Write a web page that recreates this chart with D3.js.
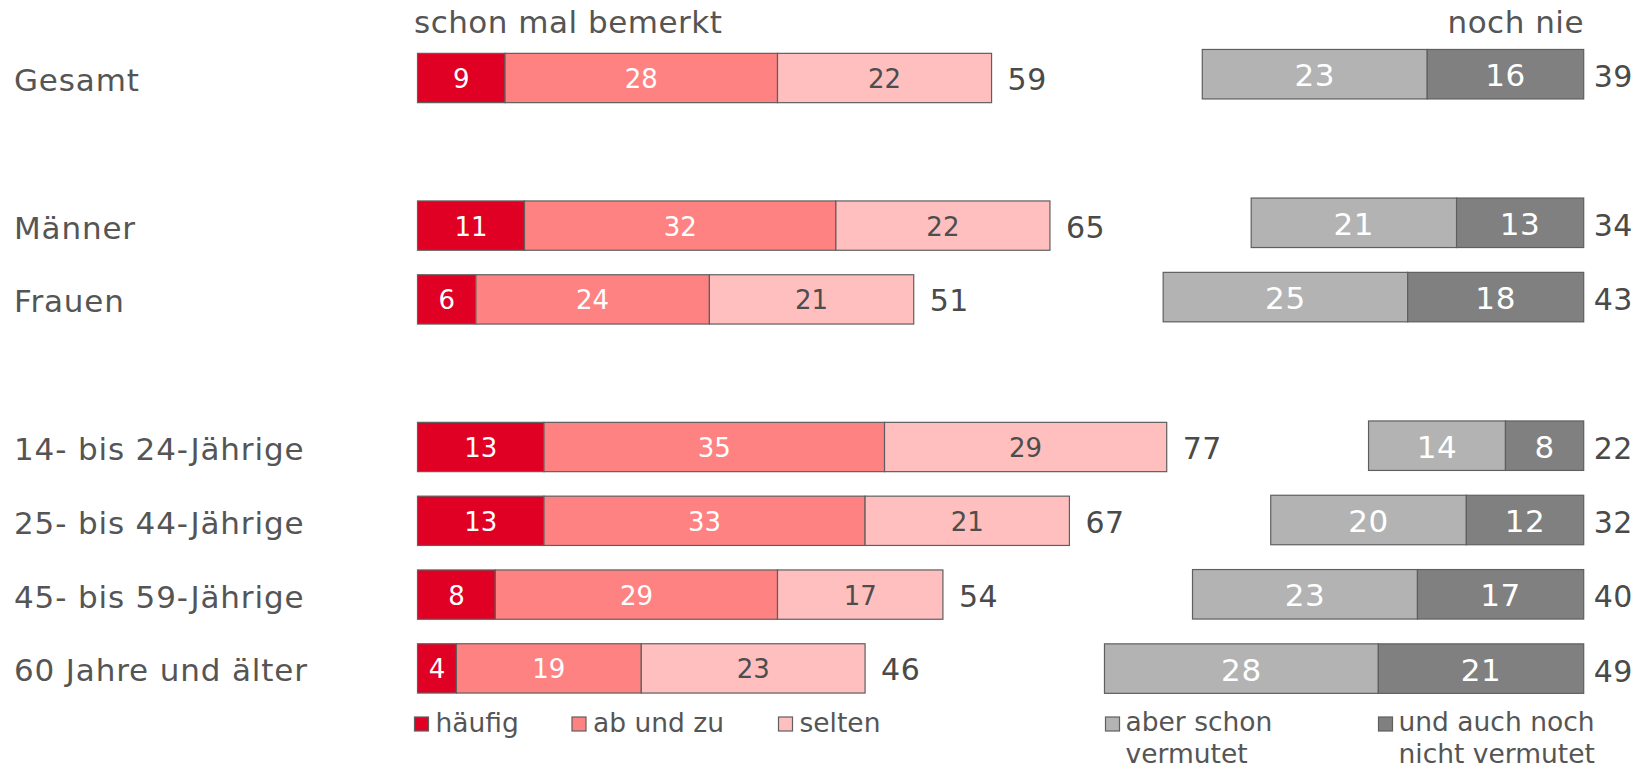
<!DOCTYPE html>
<html><head><meta charset="utf-8">
<script src="https://cdn.jsdelivr.net/npm/d3@7"></script>
<style>
html,body{margin:0;padding:0;background:#fff;}
svg text{font-family:"DejaVu Sans",Verdana,sans-serif;}
</style></head>
<body><svg id="c" width="1638" height="769"></svg>
<script>
// ---- data ----
const groups = [["Gesamt"], ["Männer", "Frauen"], ["14- bis 24-Jährige", "25- bis 44-Jährige", "45- bis 59-Jährige", "60 Jahre und älter"]];
const categories = ["Gesamt", "Männer", "Frauen", "14- bis 24-Jährige", "25- bis 44-Jährige", "45- bis 59-Jährige", "60 Jahre und älter"];
const haeufig = [9, 11, 6, 13, 13, 8, 4];
const abUndZu = [28, 32, 24, 35, 33, 29, 19];
const selten = [22, 22, 21, 29, 21, 17, 23];
const bemerktTotal = [59, 65, 51, 77, 67, 54, 46];
const aberSchonVermutet = [23, 21, 25, 14, 20, 23, 28];
const nichtVermutet = [16, 13, 18, 8, 12, 17, 21];
const nieTotal = [39, 34, 43, 22, 32, 40, 49];
const redSeries = ["häufig", "ab und zu", "selten"];
const graySeries = ["aber schon\nvermutet", "und auch noch\nnicht vermutet"];
const titleLeft = "schon mal bemerkt";
const titleRight = "noch nie";

// ---- layout ----
const svg = d3.select("#c");
const slots = [];
groups.forEach((g, i) => { if (i > 0) slots.push("_gap" + i); g.forEach(c => slots.push(c)); });

const yRed = d3.scaleBand().domain(slots).range([41.1, 41.1 + 9 * 73.8]).paddingInner(0.332).paddingOuter(0.166);
const yGray = d3.scaleBand().domain(slots).range([37.05, 37.05 + 9 * 74.3]).paddingInner(0.334).paddingOuter(0.167);
const xRed = d3.scaleLinear().domain([0, 100]).range([417.5, 417.5 + 973]);
const xGray = d3.scaleLinear().domain([0, 100]).range([1583.7, 1583.7 - 978]);

const redColors = ["#df0024", "#ff8282", "#ffbfbf"];
const redText = ["#ffffff", "#ffffff", "#4d4d4d"];
const grayColors = ["#b3b3b3", "#808080"];
const stroke = "#5f5f5f";
const labelColor = "#555555";

const redData = categories.map((c, i) => ({c, vals: [haeufig[i], abUndZu[i], selten[i]], total: bemerktTotal[i]}));
const grayData = categories.map((c, i) => ({c, vals: [aberSchonVermutet[i], nichtVermutet[i]], total: nieTotal[i]}));

// titles
svg.append("text").attr("x", 414).attr("y", 33).attr("font-size", 31).attr("letter-spacing", 0.5).attr("fill", labelColor).text(titleLeft);
svg.append("text").attr("x", 1584).attr("y", 33).attr("text-anchor", "end").attr("font-size", 31).attr("letter-spacing", 0.5).attr("fill", labelColor).text(titleRight);

// category labels
svg.append("g").selectAll("text").data(categories).join("text")
  .attr("x", 14).attr("y", d => yRed(d) + yRed.bandwidth() / 2 + 13)
  .attr("font-size", 31).attr("letter-spacing", 0.85).attr("fill", labelColor).text(d => d);

// red stacked bars
const gRed = svg.append("g");
redData.forEach(d => {
  let acc = 0;
  d.vals.forEach((v, k) => {
    const x0 = xRed(acc), x1 = xRed(acc + v);
    const y = yRed(d.c), h = yRed.bandwidth();
    gRed.append("rect").attr("x", x0).attr("y", y).attr("width", x1 - x0).attr("height", h)
      .attr("fill", redColors[k]).attr("stroke", stroke).attr("stroke-width", 1.2);
    gRed.append("text").attr("x", (x0 + x1) / 2).attr("y", y + h / 2 + 10)
      .attr("text-anchor", "middle").attr("font-size", 26).attr("fill", redText[k]).text(v);
    acc += v;
  });
  gRed.append("text").attr("x", xRed(d.total) + 16).attr("y", yRed(d.c) + yRed.bandwidth() / 2 + 12)
    .attr("font-size", 30).attr("letter-spacing", 0.5).attr("fill", "#4a4a4a").text(d.total);
});

// gray stacked bars (anchored right)
const gGray = svg.append("g");
grayData.forEach(d => {
  const y = yGray(d.c), h = yGray.bandwidth();
  const dark = d.vals[1], light = d.vals[0];
  const parts = [
    {v: light, from: dark, to: dark + light, k: 0},
    {v: dark, from: 0, to: dark, k: 1}
  ];
  parts.forEach(p => {
    const xa = xGray(p.to), xb = xGray(p.from);
    gGray.append("rect").attr("x", xa).attr("y", y).attr("width", xb - xa).attr("height", h)
      .attr("fill", grayColors[p.k]).attr("stroke", stroke).attr("stroke-width", 1.2);
    gGray.append("text").attr("x", (xa + xb) / 2).attr("y", y + h / 2 + 12)
      .attr("text-anchor", "middle").attr("font-size", 31).attr("letter-spacing", 0.6).attr("fill", "#ffffff").text(p.v);
  });
  gGray.append("text").attr("x", xGray(0) + 10).attr("y", y + h / 2 + 13)
    .attr("font-size", 30).attr("letter-spacing", 0.5).attr("fill", "#4a4a4a").text(d.total);
});

// legend
const legRed = [{x: 414.5}, {x: 572}, {x: 778.5}];
redSeries.forEach((s, k) => {
  svg.append("rect").attr("x", legRed[k].x).attr("y", 717).attr("width", 14).attr("height", 14)
    .attr("fill", redColors[k]).attr("stroke", stroke).attr("stroke-width", 1.2);
  svg.append("text").attr("x", legRed[k].x + 21).attr("y", 732).attr("font-size", 26.5).attr("fill", labelColor).text(s);
});
const legGray = [{x: 1105.5}, {x: 1378.5}];
graySeries.forEach((s, k) => {
  svg.append("rect").attr("x", legGray[k].x).attr("y", 717).attr("width", 14).attr("height", 14)
    .attr("fill", grayColors[k]).attr("stroke", stroke).attr("stroke-width", 1.2);
  const t = svg.append("text").attr("x", legGray[k].x + 20).attr("y", 731).attr("font-size", 26.5).attr("fill", labelColor);
  s.split("\n").forEach((line, li) => {
    t.append("tspan").attr("x", legGray[k].x + 20).attr("dy", li === 0 ? 0 : 32).text(line);
  });
});
</script></body></html>
